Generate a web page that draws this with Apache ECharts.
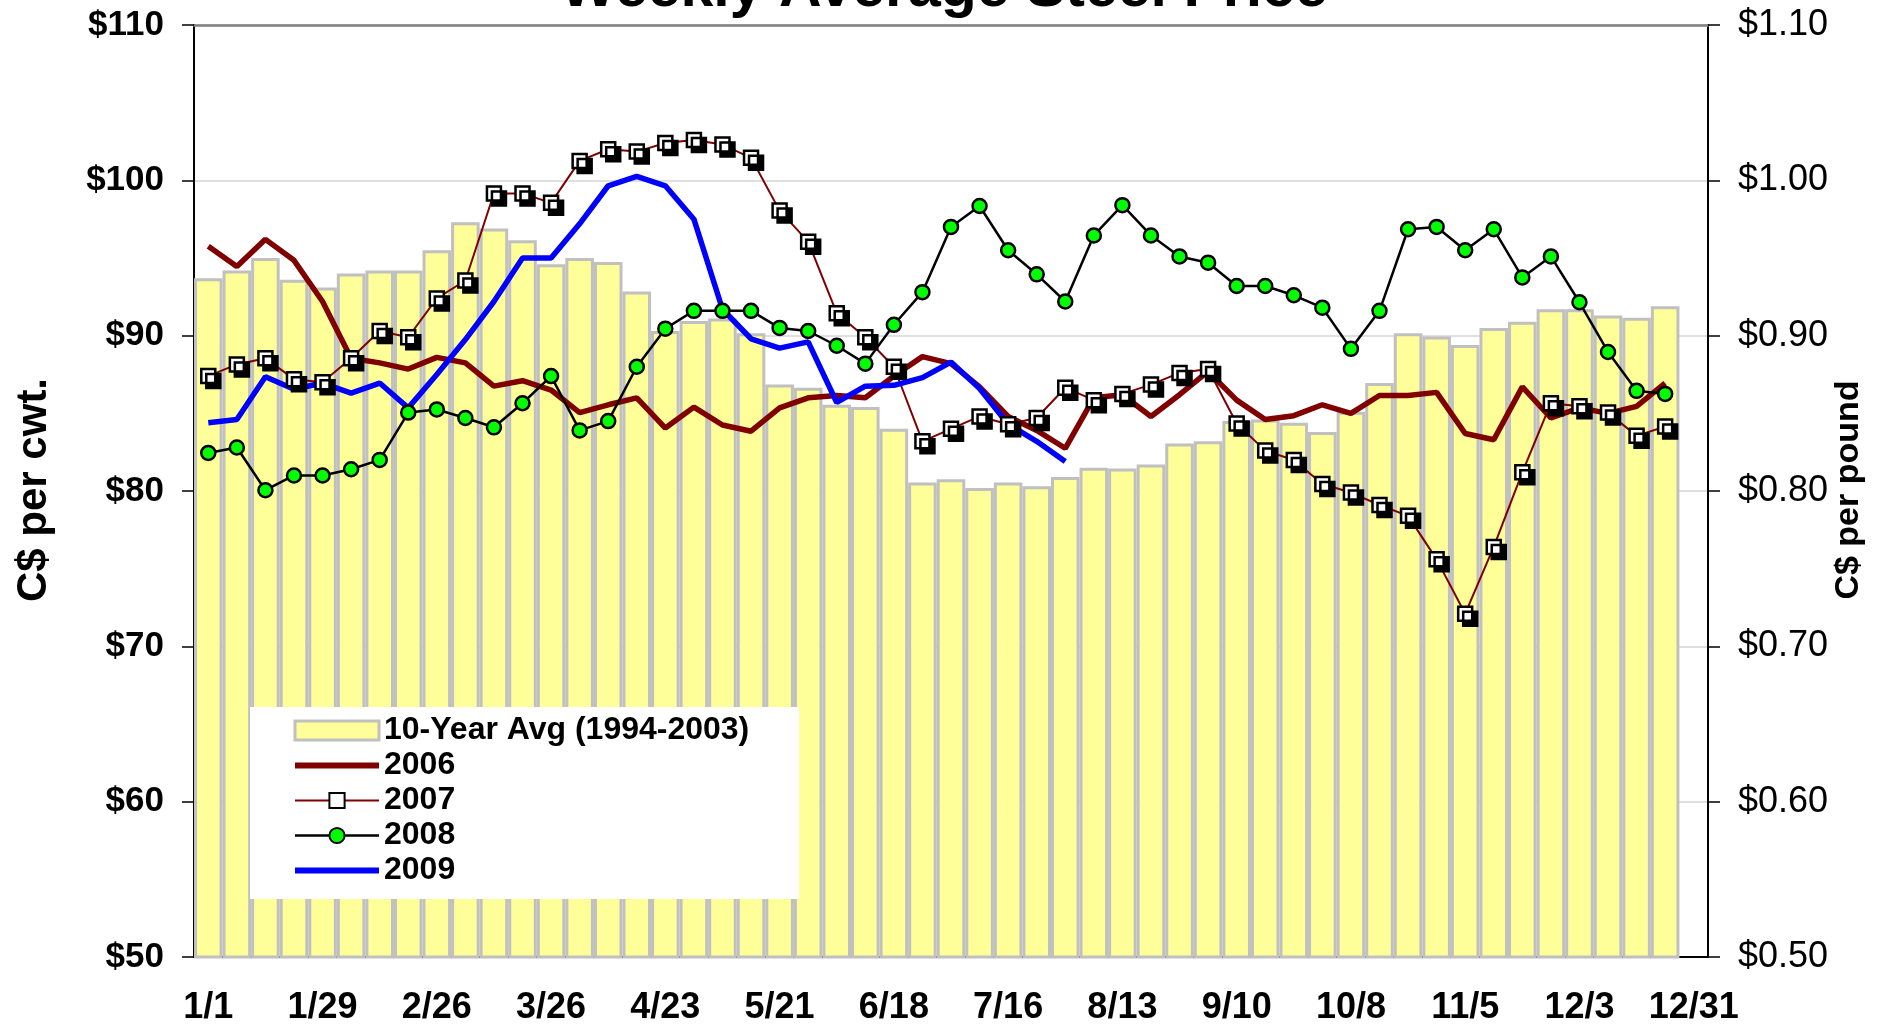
<!DOCTYPE html>
<html>
<head>
<meta charset="utf-8">
<title>Weekly Average Steel Price</title>
<script src="https://cdn.jsdelivr.net/npm/echarts@6/dist/echarts.min.js"></script>
<style>
    html, body {
        margin: 0;
        padding: 0;
        background: #fff;
    }

    .com-chart {
        width: 1885px;
        height: 1030px;
        overflow: hidden;
    }
</style>
</head>
<body>
<div class="com-chart" id="steel_ref"></div>
<script>
// week labels (53 slots, last one has no data)
var weeks = ['1/1', '1/8', '1/15', '1/22', '1/29', '2/5', '2/12', '2/19', '2/26', '3/5', '3/12', '3/19',
    '3/26', '4/2', '4/9', '4/16', '4/23', '4/30', '5/7', '5/14', '5/21', '5/28', '6/4', '6/11',
    '6/18', '6/25', '7/2', '7/9', '7/16', '7/23', '7/30', '8/6', '8/13', '8/20', '8/27', '9/3',
    '9/10', '9/17', '9/24', '10/1', '10/8', '10/15', '10/22', '10/29', '11/5', '11/12', '11/19', '11/26',
    '12/3', '12/10', '12/17', '12/24', '12/31']

// C$ per cwt.
var avg10 = [93.7, 94.2, 95.0, 93.6, 93.1, 94.0, 94.2, 94.2, 95.5, 97.3, 96.9, 96.15,
    94.6, 95.0, 94.75, 92.85, 90.3, 90.95, 91.1, 90.15, 86.85, 86.65, 85.55, 85.4,
    84.0, 80.55, 80.75, 80.2, 80.55, 80.3, 80.9, 81.5, 81.45, 81.7, 83.05, 83.2,
    84.5, 84.6, 84.4, 83.8, 85.1, 86.95, 90.15, 89.95, 89.4, 90.5, 90.9, 91.7,
    91.7, 91.3, 91.15, 91.9]

var y2006 = [95.75, 94.45, 96.2, 94.85, 92.2, 88.55, 88.25, 87.85, 88.6, 88.25, 86.75, 87.1,
    86.5, 85.05, 85.55, 86.0, 84.05, 85.4, 84.25, 83.85, 85.35, 86.0, 86.15, 86.0,
    87.4, 88.65, 88.2, 86.7, 84.8, 83.9, 82.75, 86.0, 86.2, 84.8, 86.2, 87.7,
    85.85, 84.6, 84.85, 85.55, 85.0, 86.15, 86.15, 86.35, 83.7, 83.3, 86.7, 84.7,
    85.35, 85.0, 85.45, 86.95]

var y2007 = [87.4, 88.15, 88.55, 87.2, 87.0, 88.55, 90.3, 89.9, 92.4, 93.55, 99.15, 99.15,
    98.55, 101.25, 102.0, 101.85, 102.4, 102.6, 102.3, 101.45, 98.05, 96.05, 91.45, 89.9,
    88.0, 83.2, 84.0, 84.8, 84.3, 84.7, 86.65, 85.85, 86.25, 86.85, 87.6, 87.85,
    84.35, 82.6, 82.0, 80.45, 79.9, 79.1, 78.4, 75.6, 72.1, 76.4, 81.2, 85.65,
    85.45, 85.05, 83.55, 84.15]

var y2008 = [82.45, 82.8, 80.05, 81.0, 81.0, 81.4, 82.0, 85.05, 85.25, 84.7, 84.1, 85.65,
    87.4, 83.9, 84.5, 88.0, 90.45, 91.6, 91.6, 91.6, 90.5, 90.3, 89.35, 88.2,
    90.7, 92.8, 97.0, 98.35, 95.5, 93.95, 92.2, 96.45, 98.4, 96.45, 95.1, 94.7,
    93.2, 93.2, 92.6, 91.8, 89.15, 91.6, 96.85, 97.0, 95.5, 96.85, 93.75, 95.1,
    92.15, 88.95, 86.45, 86.25]

var y2009 = [84.4, 84.6, 87.35, 86.55, 86.95, 86.3, 86.95, 85.35, 87.5, 89.75, 92.2, 95.0,
    95.0, 97.2, 99.65, 100.25, 99.65, 97.5, 91.7, 89.8, 89.2, 89.6, 85.7, 86.75,
    86.8, 87.3, 88.3, 86.6, 84.3, 83.2, 81.9]

var FONT = '"Liberation Sans", Arial, sans-serif'

var chartInstance = echarts.init(document.getElementById('steel_ref'))
chartInstance.setOption({
    animation: false,
    backgroundColor: '#fff',
    graphic: [{
        type: 'text',
        x: 944,
        y: -10,
        style: {
            text: 'Weekly Average Steel Price',
            font: 'bold 59px ' + FONT,
            fill: '#000',
            align: 'center',
            verticalAlign: 'middle'
        }
    }, {
        type: 'text',
        x: 34,
        y: 490,
        rotation: Math.PI / 2,
        style: {
            text: 'C$ per cwt.',
            font: 'bold 42px ' + FONT,
            fill: '#000',
            align: 'center',
            verticalAlign: 'middle'
        }
    }, {
        type: 'text',
        x: 1849,
        y: 490,
        rotation: Math.PI / 2,
        style: {
            text: 'C$ per pound',
            font: 'bold 34px ' + FONT,
            fill: '#000',
            align: 'center',
            verticalAlign: 'middle'
        }
    }],
    legend: {
        orient: 'vertical',
        left: 250,
        top: 707,
        padding: [6, 50, 11, 42],
        backgroundColor: '#fff',
        itemWidth: 84,
        itemHeight: 19,
        itemGap: 0,
        textStyle: {
            fontFamily: FONT,
            fontWeight: 'bold',
            fontSize: 32,
            lineHeight: 35,
            color: '#000'
        },
        data: [
            { name: '10-Year Avg (1994-2003)', icon: 'rect', itemStyle: { borderWidth: 3 } },
            { name: '2006', itemStyle: { opacity: 0 }, lineStyle: { width: 6 } },
            { name: '2007', itemStyle: { borderWidth: 2 }, lineStyle: { width: 2 } },
            { name: '2008', itemStyle: { borderWidth: 2 }, lineStyle: { width: 2.5 } },
            { name: '2009', itemStyle: { opacity: 0 }, lineStyle: { width: 6 } }
        ]
    },
    grid: {
        left: 194,
        right: 177,
        top: 25,
        bottom: 73
    },
    xAxis: [{
        type: 'category',
        data: weeks,
        boundaryGap: true,
        axisLine: { lineStyle: { color: '#000', width: 2 } },
        axisTick: { interval: 0, length: 12, lineStyle: { color: '#000', width: 1.5 } },
        axisLabel: {
            interval: 3,
            margin: 33,
            color: '#000',
            fontFamily: FONT,
            fontWeight: 'bold',
            fontSize: 36
        },
        splitLine: { show: false }
    }, {
        // plot top border
        type: 'category',
        data: weeks,
        position: 'top',
        axisLine: { lineStyle: { color: '#808080', width: 2.5 } },
        axisTick: { show: false },
        axisLabel: { show: false }
    }],
    yAxis: [{
        type: 'value',
        min: 50,
        max: 110,
        interval: 10,
        axisLine: { show: true, lineStyle: { color: '#000', width: 2 } },
        axisTick: { show: true, length: 12, lineStyle: { color: '#000', width: 1.5 } },
        axisLabel: {
            margin: 30,
            color: '#000',
            fontFamily: FONT,
            fontWeight: 'bold',
            fontSize: 35,
            formatter: function (v) { return '$' + v }
        },
        splitLine: { lineStyle: { color: '#d4d4d4', width: 1.5 } }
    }, {
        type: 'value',
        min: 0.5,
        max: 1.1,
        interval: 0.1,
        position: 'right',
        axisLine: { show: true, lineStyle: { color: '#000', width: 2 } },
        axisTick: { show: true, length: 12, lineStyle: { color: '#000', width: 1.5 } },
        axisLabel: {
            margin: 30,
            color: '#000',
            fontFamily: FONT,
            fontSize: 36,
            formatter: function (v) { return '$' + v.toFixed(2) }
        },
        splitLine: { show: false }
    }],
    series: [{
        name: '10-Year Avg (1994-2003)',
        type: 'bar',
        data: avg10,
        barCategoryGap: '0%',
        itemStyle: { color: '#FFFF99', borderColor: '#C0C0C0', borderWidth: 3 }
    }, {
        name: '2006',
        type: 'line',
        data: y2006,
        symbol: 'none',
        lineStyle: { color: '#800000', width: 5.5 },
        itemStyle: { color: '#800000' }
    }, {
        name: '2007',
        type: 'line',
        data: y2007,
        symbol: 'rect',
        symbolSize: 14,
        lineStyle: { color: '#800000', width: 2 },
        itemStyle: {
            color: '#fff',
            borderColor: '#000',
            borderWidth: 2.5,
            shadowColor: '#000',
            shadowBlur: 0,
            shadowOffsetX: 5,
            shadowOffsetY: 5
        }
    }, {
        name: '2008',
        type: 'line',
        data: y2008,
        symbol: 'circle',
        symbolSize: 14,
        lineStyle: { color: '#000', width: 2.5 },
        itemStyle: { color: '#00FF00', borderColor: '#000', borderWidth: 2.5 }
    }, {
        name: '2009',
        type: 'line',
        data: y2009,
        symbol: 'none',
        lineStyle: { color: '#0000FF', width: 5.5 },
        itemStyle: { color: '#0000FF' }
    }]
})
</script>
</body>
</html>
